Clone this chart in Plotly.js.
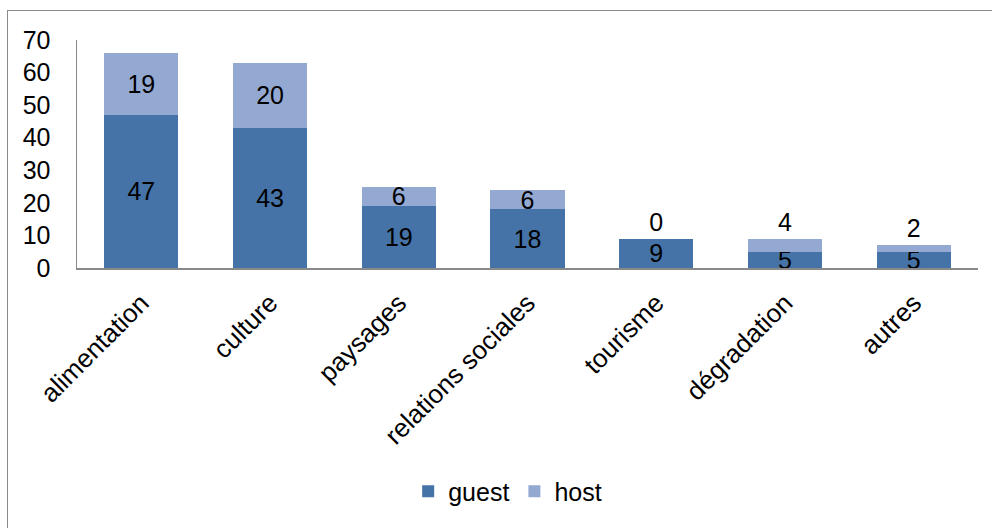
<!DOCTYPE html>
<html>
<head>
<meta charset="utf-8">
<script src="https://cdn.plot.ly/plotly-3.0.1.min.js"></script>
<style>
html,body{margin:0;padding:0;background:#fff;overflow:hidden;}
#wrap{position:relative;width:992px;height:528px;}
#chart{position:absolute;left:0;top:0;width:992px;height:528px;}
#frame{position:absolute;left:7px;top:10px;width:1100px;height:700px;border:1.5px solid #898989;box-sizing:border-box;pointer-events:none;}
</style>
</head>
<body>
<div id="wrap">
<div id="chart"></div>
<div id="frame"></div>
</div>
<script>
const categories = ["alimentation","culture","paysages","relations sociales","tourisme","dégradation","autres"];
const guest = [47, 43, 19, 18, 9, 5, 5];
const host = [19, 20, 6, 6, 0, 4, 2];
const yTicks = [0,10,20,30,40,50,60,70];

const fontFam = "Liberation Sans, Arial, sans-serif";
const fs = 25;

const hostPos = host.map((v, i) => (v >= 6 ? "inside" : "outside"));

const traces = [
  {
    type: "bar", name: "guest", x: categories, y: guest,
    marker: {color: "#4573A7"},
    text: guest.map(String), textposition: "inside", insidetextanchor: "middle",
    constraintext: "none", cliponaxis: false, textangle: 0,
    textfont: {family: fontFam, size: fs, color: "#000"},
    hoverinfo: "skip"
  },
  {
    type: "bar", name: "host", x: categories, y: host,
    marker: {color: "#94A9D1"},
    text: host.map(String), textposition: hostPos, insidetextanchor: "middle",
    constraintext: "none", cliponaxis: false, textangle: 0,
    textfont: {family: fontFam, size: fs, color: "#000"},
    outsidetextfont: {family: fontFam, size: fs, color: "#000"},
    hoverinfo: "skip"
  }
];

const layout = {
  width: 992, height: 528,
  margin: {l: 77, r: 14, t: 40, b: 260},
  paper_bgcolor: "#fff", plot_bgcolor: "#fff",
  barmode: "stack", bargap: 0.425,
  font: {family: fontFam, size: fs, color: "#000"},
  showlegend: true,
  legend: {orientation: "h", x: 0.478, xanchor: "center", y: -0.98, yanchor: "middle",
           font: {family: fontFam, size: fs, color: "#000"}, itemwidth: 30, traceorder: "normal"},
  xaxis: {
    type: "category", tickangle: -45, showgrid: false, zeroline: false,
    showline: true, linecolor: "#898989", linewidth: 1.5, ticks: "",
    ticklabelstandoff: 8,
    tickfont: {family: fontFam, size: 26, color: "#000"}
  },
  yaxis: {
    range: [0, 70], tickvals: yTicks, ticktext: yTicks.map(String),
    showgrid: false, zeroline: false, showline: true, linecolor: "#898989", linewidth: 1.5,
    ticks: "", ticklabelstandoff: 20,
    tickfont: {family: fontFam, size: fs, color: "#000"}
  }
};

Plotly.newPlot("chart", traces, layout, {staticPlot: true, displayModeBar: false});
</script>
</body>
</html>
